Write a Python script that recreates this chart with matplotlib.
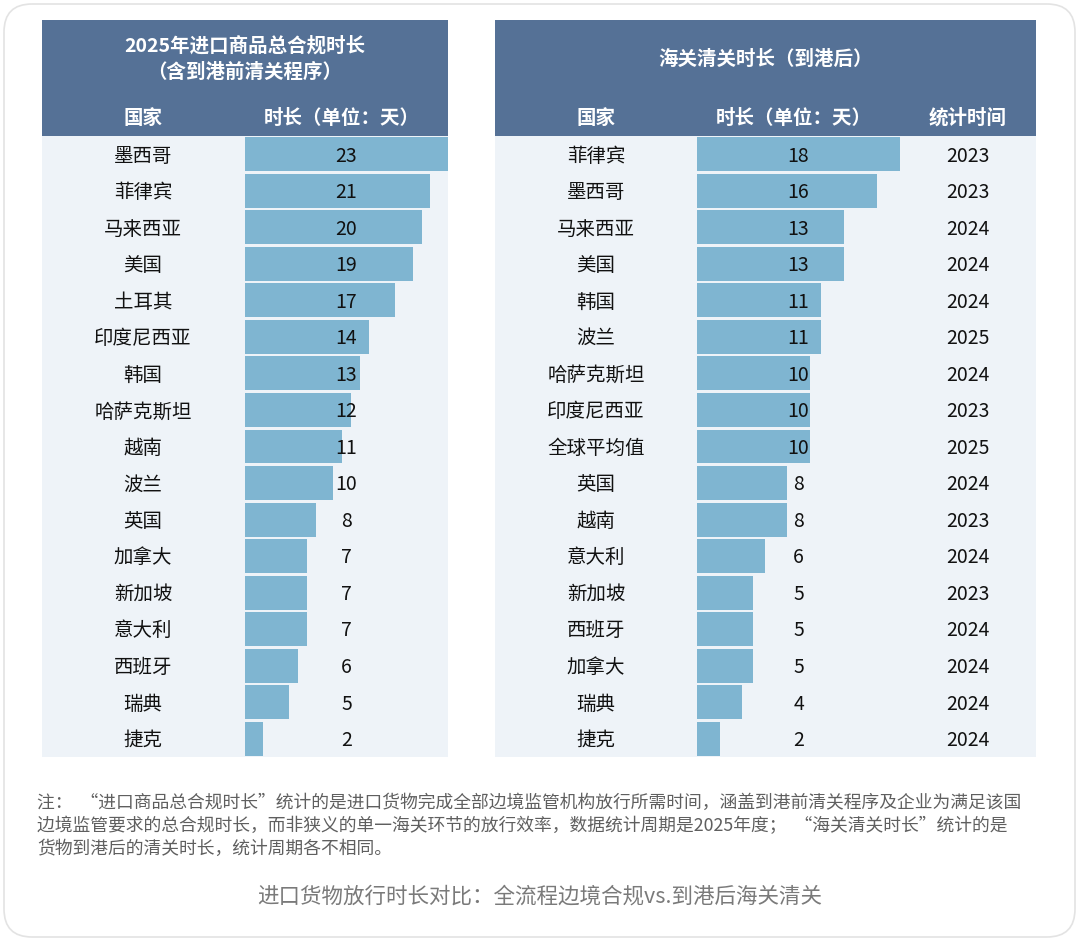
import matplotlib
matplotlib.use("Agg")
import matplotlib.pyplot as plt
from matplotlib.patches import Rectangle, FancyBboxPatch

plt.rcParams['font.family'] = ['Noto Sans CJK SC', 'DejaVu Sans']

# ---------------- data ----------------
left_title = "2025年进口商品总合规时长\n（含到港前清关程序）"
left_countries = ["墨西哥", "菲律宾", "马来西亚", "美国", "土耳其", "印度尼西亚", "韩国",
                  "哈萨克斯坦", "越南", "波兰", "英国", "加拿大", "新加坡", "意大利",
                  "西班牙", "瑞典", "捷克"]
left_values = [23, 21, 20, 19, 17, 14, 13, 12, 11, 10, 8, 7, 7, 7, 6, 5, 2]

right_title = "海关清关时长（到港后）"
right_countries = ["菲律宾", "墨西哥", "马来西亚", "美国", "韩国", "波兰", "哈萨克斯坦",
                   "印度尼西亚", "全球平均值", "英国", "越南", "意大利", "新加坡", "西班牙",
                   "加拿大", "瑞典", "捷克"]
right_values = [18, 16, 13, 13, 11, 11, 10, 10, 10, 8, 8, 6, 5, 5, 5, 4, 2]
right_years = ["2023", "2023", "2024", "2024", "2024", "2025", "2024", "2023", "2025",
               "2024", "2023", "2024", "2023", "2024", "2024", "2024", "2024"]

col_country = "国家"
col_duration = "时长（单位：天）"
col_year = "统计时间"

note_lines = [
    "注：  “进口商品总合规时长”统计的是进口货物完成全部边境监管机构放行所需时间，涵盖到港前清关程序及企业为满足该国",
    "边境监管要求的总合规时长，而非狭义的单一海关环节的放行效率，数据统计周期是2025年度；  “海关清关时长”统计的是",
    "货物到港后的清关时长，统计周期各不相同。",
]
caption = "进口货物放行时长对比：全流程边境合规vs.到港后海关清关"

# ---------------- style ----------------
W, H = 1080, 942
HEADER = "#557196"
BAR = "#7fb5d1"
ROWBG = "#eef3f8"
TEXT = "#111111"

fig = plt.figure(figsize=(W / 100, H / 100), dpi=100)
fig.patch.set_facecolor("white")

bg = fig.add_axes([0, 0, 1, 1])
bg.set_xlim(0, W)
bg.set_ylim(H, 0)
bg.axis("off")

# card
bg.add_patch(FancyBboxPatch((4, 4), W - 9, H - 9, boxstyle="round,pad=0,rounding_size=28",
                            facecolor="white", edgecolor="#e3e3e3", linewidth=1.2))

row_top, row_bot = 136, 757
hdr_top = 20


def table(x0, x1, title, title_y, title_lines_gap):
    bg.add_patch(Rectangle((x0, row_top), x1 - x0, row_bot - row_top, facecolor=ROWBG, edgecolor="none"))
    bg.add_patch(Rectangle((x0, hdr_top), x1 - x0, row_top - hdr_top, facecolor=HEADER, edgecolor="none"))
    bg.text((x0 + x1) / 2, title_y, title, color="white", fontsize=14, fontweight="bold",
            ha="center", va="center", linespacing=title_lines_gap)


table(42, 448, left_title, 59, 1.42)
table(495, 1036, right_title, 59, 1.2)

hy = 118
bg.text(143, hy, col_country, color="white", fontsize=14, fontweight="bold", ha="center", va="center")
bg.text(342, hy, col_duration, color="white", fontsize=14, fontweight="bold", ha="center", va="center")
bg.text(596, hy, col_country, color="white", fontsize=14, fontweight="bold", ha="center", va="center")
bg.text(794, hy, col_duration, color="white", fontsize=14, fontweight="bold", ha="center", va="center")
bg.text(968, hy, col_year, color="white", fontsize=14, fontweight="bold", ha="center", va="center")


def bar_axes(x0, x1, countries, values, vmax, country_x, years=None, year_x=None):
    ax = fig.add_axes([x0 / W, 1 - row_bot / H, (x1 - x0) / W, (row_bot - row_top) / H])
    ax.patch.set_visible(False)
    n = len(values)
    ys = list(range(n))
    ax.barh(ys, values, height=0.93, color=BAR, edgecolor="none")
    ax.set_xlim(0, vmax)
    ax.set_ylim(n - 0.5, -0.5)
    ax.axis("off")
    tr = ax.get_yaxis_transform()
    dy = 0.05
    for i, (c, v) in enumerate(zip(countries, values)):
        ax.text(0.5, i + dy, str(v), transform=tr, ha="center", va="center", fontsize=14, color=TEXT)
        ax.text((country_x - x0) / (x1 - x0), i + dy, c, transform=tr, ha="center", va="center",
                fontsize=14, color=TEXT, clip_on=False)
        if years is not None:
            ax.text((year_x - x0) / (x1 - x0), i + dy, years[i], transform=tr, ha="center", va="center",
                    fontsize=14, color=TEXT, clip_on=False)
    return ax


bar_axes(245, 448, left_countries, left_values, max(left_values), 143)
bar_axes(697, 900, right_countries, right_values, max(right_values), 596, right_years, 968)

for k, line in enumerate(note_lines):
    bg.text(37, 803 + k * 23, line, fontsize=12.8, color="#5f5f5f", ha="left", va="center")

bg.text(540, 897, caption, fontsize=15.5, color="#7a7a7a", ha="center", va="center")

fig.savefig("out.png", dpi=100, facecolor="white")
